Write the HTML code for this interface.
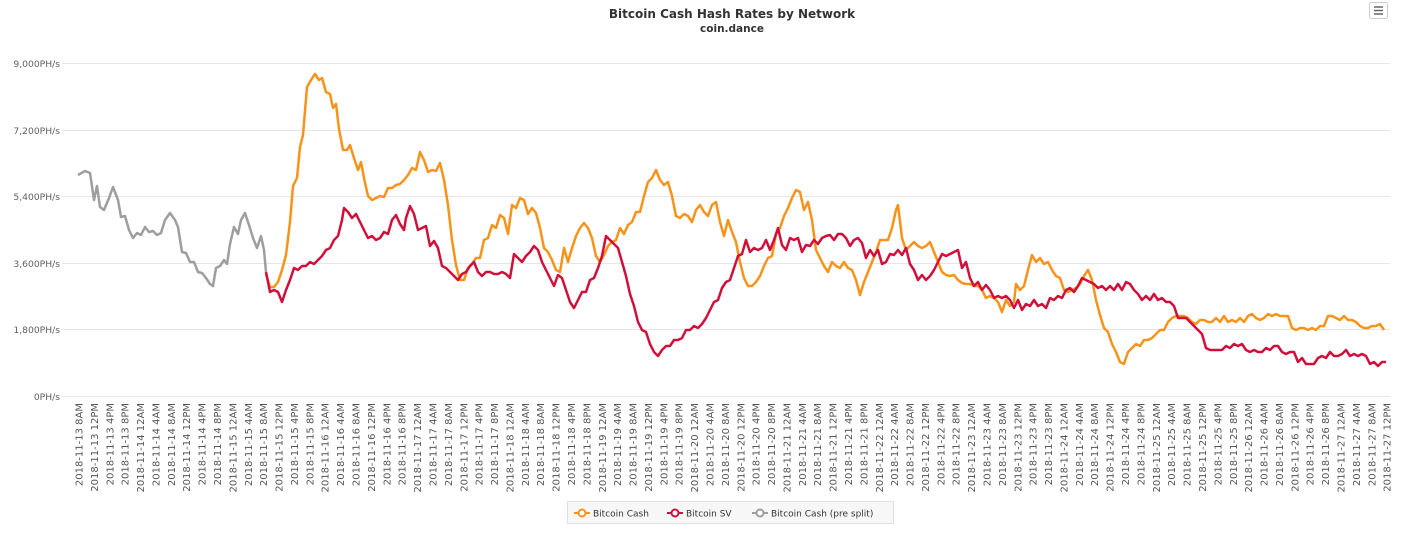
<!DOCTYPE html>
<html><head><meta charset="utf-8"><style>body{margin:0;background:#fff}svg{display:block;font-family:"DejaVu Sans",Verdana,sans-serif}</style></head><body>
<svg width="1416" height="544" xmlns="http://www.w3.org/2000/svg">
<text x="732" y="18" text-anchor="middle" font-size="12" font-weight="bold" fill="#333">Bitcoin Cash Hash Rates by Network</text>
<text x="732" y="32" text-anchor="middle" font-size="10.5" font-weight="bold" fill="#333">coin.dance</text>
<rect x="1369.5" y="2.5" width="18" height="16" rx="2" fill="#fff" stroke="#ccc"/>
<g stroke="#666" stroke-width="1.5"><line x1="1374" y1="7" x2="1383" y2="7"/><line x1="1374" y1="10.5" x2="1383" y2="10.5"/><line x1="1374" y1="14" x2="1383" y2="14"/></g>
<g stroke="#e6e6e6" stroke-width="1">
<line x1="62" y1="63.5" x2="1390" y2="63.5"/><line x1="62" y1="130.5" x2="1390" y2="130.5"/><line x1="62" y1="196.5" x2="1390" y2="196.5"/><line x1="62" y1="263.5" x2="1390" y2="263.5"/><line x1="62" y1="329.5" x2="1390" y2="329.5"/><line x1="62" y1="396.5" x2="1390" y2="396.5"/></g>
<g font-size="9.2" fill="#606060" text-anchor="end">
<text x="60" y="67">9,000PH/s</text><text x="60" y="134">7,200PH/s</text><text x="60" y="200">5,400PH/s</text><text x="60" y="267">3,600PH/s</text><text x="60" y="333">1,800PH/s</text><text x="60" y="400">0PH/s</text></g>
<g id="xl" font-size="10" fill="#555" text-anchor="end"></g>
<g fill="none" stroke-width="2.5" stroke-linejoin="round">
<polyline stroke="#9e9e9e" points="78,175 85,171 90,173 94,200 97,186 100,207 104,210 109,198 113,187 118,200 121,217 125,216 129,230 133,238 137,233 141,235 145,227 149,232 153,231 157,235 161,233 165,220 170,213 175,220 178,227 182,252 186,253 190,262 194,262 198,272 202,273 206,278 210,284 213,286 216,268 220,266 224,260 227,264 230,244 234,227 238,234 241,220 245,213 249,225 253,238 257,248 261,236 264,250 266,272"/>
<polyline stroke="#f7931a" points="266,274 270,287 274,287 278,282 282,270 286,255 290,222 293,186 297,178 300,147 303,135 307,87 311,80 315,74 319,80 322,78 326,92 330,94 333,108 336,104 339,129 343,150 347,150 350,145 354,158 358,170 361,162 364,178 368,196 372,200 376,198 380,196 384,197 388,188 392,188 396,185 400,184 404,180 408,175 412,168 416,170 420,152 424,160 428,172 432,170 436,171 440,163 444,180 448,205 452,240 456,265 460,280 464,280 468,268 472,264 476,258 480,258 484,240 488,238 492,225 496,228 500,215 504,218 508,234 512,205 516,208 520,198 524,200 528,214 532,208 536,213 540,228 544,248 548,252 552,260 556,270 560,272 564,248 568,262 572,248 576,236 580,228 584,223 588,228 592,238 596,256 600,262 604,255 608,246 612,242 616,240 620,228 624,234 628,225 632,222 636,212 640,212 644,196 648,182 652,178 656,170 660,180 664,185 668,182 672,196 676,216 680,218 684,214 688,216 692,222 696,210 700,205 704,212 708,216 712,205 716,202 720,222 724,236 728,220 732,232 736,242 740,262 744,278 748,286 752,286 756,282 760,276 764,266 768,258 772,256 776,234 780,228 784,216 788,208 792,198 796,190 800,192 804,210 808,202 812,220 816,250 820,258 824,266 828,272 832,262 836,266 840,268 844,262 848,268 852,270 856,280 860,295 864,282 868,272 872,262 876,252 880,240 884,240 888,240 892,228 896,210 898,205 902,238 906,250 910,246 914,242 918,246 922,248 926,246 930,242 934,252 938,262 942,272 946,275 950,276 954,275 958,280 962,283 966,284 970,284 974,286 978,286 982,290 986,298 990,296 994,298 998,302 1002,312 1006,300 1010,306 1014,302 1016,284 1020,290 1024,286 1028,270 1032,255 1036,262 1040,258 1044,264 1048,262 1052,270 1056,276 1060,278 1064,290 1068,292 1072,290 1076,288 1080,284 1084,276 1088,270 1092,280 1096,300 1100,315 1104,328 1108,332 1112,344 1116,352 1120,362 1124,364 1128,352 1132,348 1136,344 1140,346 1144,340 1148,340 1152,338 1156,334 1160,330 1164,330 1168,322 1172,318 1176,316 1180,316 1184,316 1188,318 1192,322 1196,324 1200,320 1204,320 1208,322 1212,322 1216,318 1220,322 1224,316 1228,322 1232,320 1236,322 1240,318 1244,322 1248,316 1252,314 1256,318 1260,320 1264,318 1268,314 1272,316 1276,314 1280,316 1284,316 1288,316 1292,328 1296,330 1300,328 1304,328 1308,330 1312,328 1316,330 1320,326 1324,326 1328,316 1332,316 1336,318 1340,320 1344,316 1348,320 1352,320 1356,322 1360,326 1364,328 1368,328 1372,326 1376,326 1380,324 1384,330"/>
<polyline stroke="#d0103a" points="266,272 270,292 274,290 278,292 282,302 286,290 290,280 294,268 298,270 302,266 306,266 310,262 314,264 318,260 322,256 326,250 330,248 334,240 338,236 342,220 344,208 348,212 352,218 356,214 360,222 364,230 368,238 372,236 376,240 380,238 384,232 388,234 392,220 396,215 400,224 404,230 406,218 410,206 414,214 418,230 422,228 426,226 430,246 434,241 438,248 442,266 446,268 450,272 454,276 458,280 462,274 466,272 470,266 474,262 478,272 482,276 486,272 490,272 494,274 498,274 502,272 506,274 510,278 514,254 518,258 522,262 526,256 530,252 534,246 538,250 542,262 546,270 550,278 554,286 558,275 562,278 566,290 570,302 574,308 578,300 582,292 586,292 590,280 594,278 598,268 602,256 606,236 610,240 614,244 618,248 622,262 626,276 630,294 634,306 638,322 642,330 646,332 650,344 654,352 658,356 662,350 666,346 670,346 674,340 678,340 682,338 686,330 690,330 694,326 698,328 702,324 706,318 710,310 714,302 718,300 722,288 726,282 730,280 734,268 738,256 742,254 746,240 750,252 754,248 758,250 762,248 766,240 770,250 774,240 778,228 782,245 786,250 790,238 794,240 798,238 802,252 806,245 810,246 814,240 818,244 822,238 826,236 830,235 834,240 838,234 842,234 846,238 850,246 854,240 858,238 862,243 866,258 870,250 874,256 878,250 882,264 886,262 890,254 894,255 898,250 902,255 906,248 910,264 914,270 918,280 922,275 926,280 930,276 934,270 938,262 942,254 946,256 950,254 954,252 958,250 962,268 966,262 970,278 974,286 978,282 982,290 986,285 990,290 994,298 998,296 1002,298 1006,296 1010,300 1014,308 1018,300 1022,310 1026,304 1030,306 1034,300 1038,306 1042,304 1046,308 1050,298 1054,300 1058,296 1062,298 1066,290 1070,288 1074,292 1078,286 1082,278 1086,280 1090,282 1094,284 1098,288 1102,286 1106,290 1110,286 1114,290 1118,284 1122,290 1126,282 1130,284 1134,290 1138,294 1142,300 1146,296 1150,300 1154,294 1158,300 1162,298 1166,302 1170,302 1174,306 1178,318 1182,318 1186,318 1190,322 1194,326 1198,330 1202,334 1206,348 1210,350 1214,350 1218,350 1222,350 1226,346 1230,348 1234,344 1238,346 1242,344 1246,350 1250,352 1254,350 1258,352 1262,352 1266,348 1270,350 1274,346 1278,346 1282,352 1286,354 1290,352 1294,352 1298,362 1302,358 1306,364 1310,364 1314,364 1318,358 1322,356 1326,358 1330,352 1334,356 1338,356 1342,354 1346,350 1350,356 1354,354 1358,356 1362,354 1366,356 1370,364 1374,362 1378,366 1382,362 1386,362"/>
</g>
<rect x="567.5" y="501.5" width="326" height="22" fill="#f7f7f7" stroke="#e0e0e0"/>
<g font-size="9" fill="#333">
<line x1="574" y1="513" x2="590" y2="513" stroke="#f7931a" stroke-width="2"/><circle cx="582" cy="513" r="3.5" fill="#fff" stroke="#f7931a" stroke-width="2"/><text x="593" y="516.5">Bitcoin Cash</text>
<line x1="667" y1="513" x2="683" y2="513" stroke="#d0103a" stroke-width="2"/><circle cx="675" cy="513" r="3.5" fill="#fff" stroke="#d0103a" stroke-width="2"/><text x="686" y="516.5">Bitcoin SV</text>
<line x1="752" y1="513" x2="768" y2="513" stroke="#9e9e9e" stroke-width="2"/><circle cx="760" cy="513" r="3.5" fill="#fff" stroke="#9e9e9e" stroke-width="2"/><text x="771" y="516.5">Bitcoin Cash (pre split)</text>
</g>
<script>
var g=document.getElementById('xl'),h=['12AM','4AM','8AM','12PM','4PM','8PM'];
for(var i=0;i<86;i++){var t=8+i*4,d=13+Math.floor(t/24),hh=h[(t%24)/4];
var x=(79+i*15.39+3.5).toFixed(1);var e=document.createElementNS('http://www.w3.org/2000/svg','text');
e.setAttribute('transform','translate('+x+',403) rotate(-90)');e.textContent='2018-11-'+d+' '+hh;g.appendChild(e);}
</script>
</svg>
</body></html>
